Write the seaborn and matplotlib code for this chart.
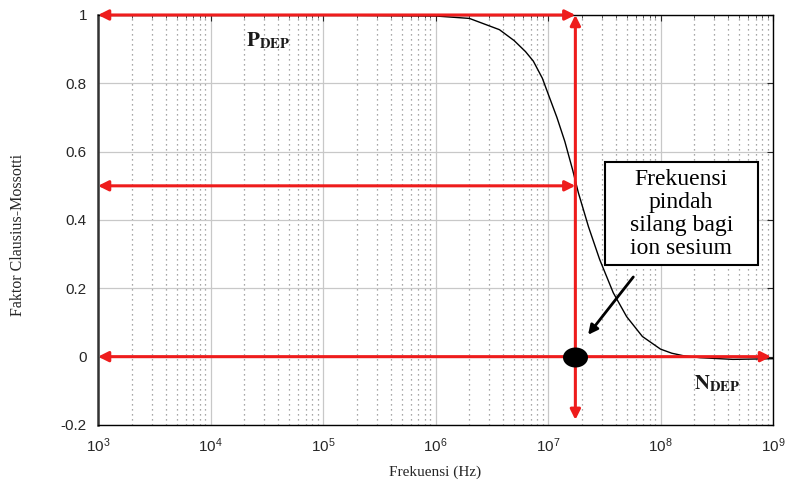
import numpy as np
import pandas as pd
import seaborn as sns
import matplotlib.pyplot as plt
from matplotlib.patches import Rectangle
from matplotlib.ticker import LogLocator, MultipleLocator, FormatStrFormatter, NullFormatter

# Clausius-Mossotti factor
freq = [1e3, 1e5, 1e6, 2.0e6, 3.7e6, 5.0e6, 6.3e6, 7.4e6, 8.9e6, 1.0e7, 1.2e7,
        1.41e7, 1.66e7, 1.86e7, 2.29e7, 2.88e7, 3.8e7, 5.0e7, 6.9e7, 1.0e8,
        1.26e8, 1.58e8, 2.24e8, 4.4e8, 1e9]
cm_factor = [1.0, 1.0, 0.997, 0.99, 0.957, 0.925, 0.893, 0.865, 0.815, 0.77,
             0.70, 0.63, 0.545, 0.48, 0.38, 0.284, 0.187, 0.117, 0.059, 0.022,
             0.01, 0.003, -0.003, -0.008, -0.006]
decade_ticks = [1e3, 1e4, 1e5, 1e6, 1e7, 1e8, 1e9]

crossover_freq = 1.75e7
levels = [1.0, 0.5, 0.0]
box_text = "Frekuensi\npindah\nsilang bagi\nion sesium"

df = pd.DataFrame({"freq": freq, "cm": cm_factor})

sns.set_style("white")
plt.rcParams["font.family"] = ["Liberation Sans", "DejaVu Sans"]
plt.rcParams["mathtext.fontset"] = "stix"
plt.rcParams["axes.unicode_minus"] = False

fig = plt.figure(figsize=(7.86, 4.82), dpi=100)
ax = fig.add_axes([0.1247, 0.1183, 0.8588, 0.8506])

sns.lineplot(data=df, x="freq", y="cm", ax=ax, color="black", linewidth=1.0)
ax.set_xscale("log")
ax.set_xlim(1e3, 1e9)
ax.set_ylim(-0.2, 1.0)

# matlab-like grid
ax.yaxis.set_major_locator(MultipleLocator(0.2))
ax.yaxis.set_major_formatter(FormatStrFormatter("%g"))
ax.set_xticks(decade_ticks)
ax.xaxis.set_minor_locator(LogLocator(base=10, subs=np.arange(2, 10), numticks=20))
ax.xaxis.set_minor_formatter(NullFormatter())
ax.grid(which="major", color="#c8c8c8", linewidth=0.9, linestyle="-")
ax.grid(which="minor", axis="x", color="#8a8a8a", linewidth=0.9, linestyle=(0, (1, 3)))
ax.set_axisbelow(True)

ax.tick_params(which="both", direction="in", top=True, right=True)
ax.tick_params(which="major", length=4, labelsize=11, pad=8)
ax.tick_params(which="minor", length=2)
for s in ax.spines.values():
    s.set_color("black")
    s.set_linewidth(1.0)
ax.spines["left"].set_linewidth(1.8)
ax.spines["left"].set_color("#333333")

ax.set_xlabel("Frekuensi (Hz)", family="Liberation Serif", fontsize=11, labelpad=8)
ax.set_ylabel("Faktor Clausius-Mossotti", family="Liberation Serif", fontsize=11.5)
ax.yaxis.set_label_coords(-0.106, 0.463)

# red arrows
red = dict(arrowstyle="<|-|>", color="#ee1c1c", lw=2.2, mutation_scale=15,
           shrinkA=0, shrinkB=0)
ax.annotate("", xy=(1e3, levels[0]), xytext=(crossover_freq, levels[0]),
            arrowprops=red, annotation_clip=False)
ax.annotate("", xy=(1e3, levels[1]), xytext=(crossover_freq, levels[1]),
            arrowprops=red, annotation_clip=False)
ax.annotate("", xy=(1e3, levels[2]), xytext=(9.6e8, levels[2]),
            arrowprops=red, annotation_clip=False)
ax.annotate("", xy=(crossover_freq, levels[0]), xytext=(crossover_freq, -0.185),
            arrowprops=red, annotation_clip=False)

# elliptical black dot at the crossover
theta = np.linspace(0, 2 * np.pi, 60)
ellipse = np.column_stack([np.cos(theta), 0.8 * np.sin(theta)])
ax.plot([crossover_freq], [0.0], marker=ellipse, color="black", markersize=18,
        markeredgewidth=0, zorder=5)

# callout
ax.add_patch(Rectangle((0.751, 0.390), 0.227, 0.251, transform=ax.transAxes,
                       facecolor="white", edgecolor="black", lw=1.5, zorder=6))
ax.text(0.864, 0.5155, box_text, transform=ax.transAxes, ha="center", va="center",
        multialignment="center", family="Liberation Serif", fontsize=17,
        color="black", linespacing=1.13, zorder=7)
ax.annotate("", xy=(0.726, 0.22), xytext=(0.793, 0.361), xycoords="axes fraction",
            arrowprops=dict(arrowstyle="-|>", color="black", lw=2, mutation_scale=14,
                            shrinkA=0, shrinkB=0), zorder=6)

ax.text(0.252, 0.937, r"$\mathbf{P}_{\mathbf{DEP}}$", transform=ax.transAxes,
        ha="center", va="center", fontsize=15, color="#1a1a1a")
ax.text(0.917, 0.10, r"$\mathbf{N}_{\mathbf{DEP}}$", transform=ax.transAxes,
        ha="center", va="center", fontsize=15, color="#1a1a1a")

fig.savefig("out.png", dpi=100)
